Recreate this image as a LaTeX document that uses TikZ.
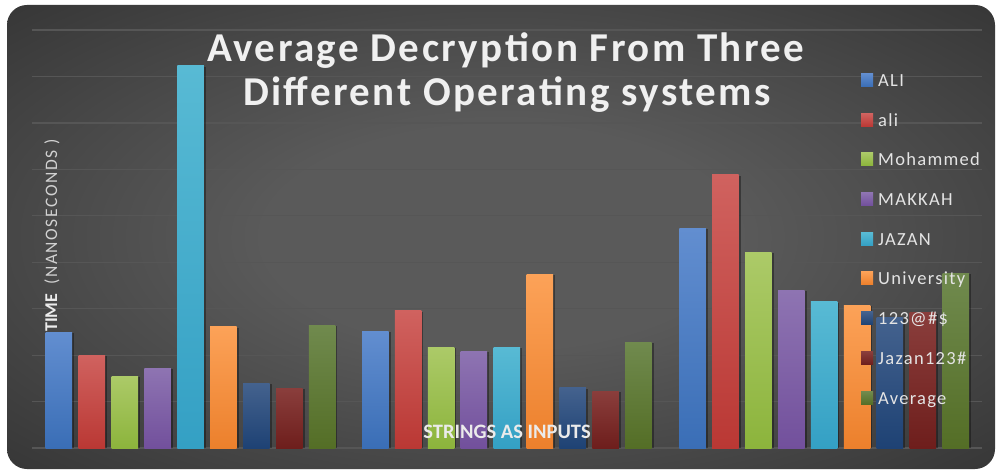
\documentclass[tikz,border=0pt]{standalone}
\usepackage{fontspec}
\setmainfont{Carlito}
\newfontfamily\titlefont[LetterSpace=6]{Carlito}
\newfontfamily\legfont[LetterSpace=7]{Carlito}
\newfontfamily\axfont[LetterSpace=9]{Carlito}
\definecolor{bgin}{RGB}{90,90,90}
\definecolor{bgout}{RGB}{36,36,36}
\definecolor{gridc}{RGB}{86,86,86}
\definecolor{txtc}{RGB}{228,228,228}
\definecolor{c0t}{RGB}{98,142,208}\definecolor{c0b}{RGB}{58,110,182}
\definecolor{c1t}{RGB}{208,98,95}\definecolor{c1b}{RGB}{186,56,52}
\definecolor{c2t}{RGB}{172,202,104}\definecolor{c2b}{RGB}{140,180,60}
\definecolor{c3t}{RGB}{142,116,178}\definecolor{c3b}{RGB}{114,80,156}
\definecolor{c4t}{RGB}{88,186,212}\definecolor{c4b}{RGB}{52,160,196}
\definecolor{c5t}{RGB}{252,162,88}\definecolor{c5b}{RGB}{236,128,44}
\definecolor{c6t}{RGB}{68,98,142}\definecolor{c6b}{RGB}{30,66,116}
\definecolor{c7t}{RGB}{138,62,60}\definecolor{c7b}{RGB}{110,30,28}
\definecolor{c8t}{RGB}{112,138,78}\definecolor{c8b}{RGB}{84,110,38}
\pgfdeclareradialshading{bgshade}{\pgfpoint{0bp}{0bp}}{color(0bp)=(bgin); color(12bp)=(bgin); color(48bp)=(bgout); color(71bp)=(bgout)}
\newcommand\bargroup[2]{%
  \foreach \h [count=\i from 0] in {#2} {
    \pgfmathsetmacro\xa{#1+\i*32.9}
    \pgfmathsetmacro\xb{\xa+26.5}
    \fill[black,opacity=0.35] (\xa+1.5,\h+1) rectangle (\xb+2,448);
    \shade[top color=c\i t,bottom color=c\i b] (\xa,\h) rectangle (\xb,448);
  }%
}
\begin{document}
\begin{tikzpicture}[x=1pt,y=-1pt,
  legtext/.style={anchor=base west,inner sep=0pt,text=txtc,font=\legfont\fontsize{18.5}{18.5}\selectfont},
  titletext/.style={anchor=base,inner sep=0pt,font=\titlefont\bfseries\fontsize{41}{41}\selectfont}]
\useasboundingbox (0,0) rectangle (998,470);
\fill[white] (0,0) rectangle (998,470);
\shade[shading=bgshade,rounded corners=20] (7,5) rectangle (995,469);
% grid
\foreach \k in {0,...,9} {
  \draw[gridc,line width=1.2] (32,{448-\k*46.44}) -- (982,{448-\k*46.44});
}
% bars
\bargroup{45.7}{332,355,376,368,65.7,326.7,383.3,388.3,325}
\bargroup{362}{331,310.7,347,351,347,274.3,387.7,391,342.3}
\bargroup{679.3}{228.3,175,252.3,290.3,301.7,305.3,317.7,312.7,273.3}
% title
\node[titletext,text=white!94!black] (t1) at (506,61.5) {Average Decryption From Three};
\node[titletext,text=white!94!black] (t2) at (507,106) {Different Operating systems};
% axis labels
\node[anchor=base west,rotate=90,inner sep=0pt,text=white!92!black] (ylab) at (57,332)
  {\fontsize{18}{18}\selectfont\bfseries TIME\hspace{9pt}\axfont\mdseries\fontsize{17.5}{17.5}\selectfont\color{white!82!black}(NANOSECONDS )};
\node[anchor=base,inner sep=0pt,text=white!92!black,font=\bfseries\fontsize{20.5}{20.5}\selectfont] (xlab) at (507,438) {STRINGS AS INPUTS};
% legend
\foreach \c/\y in {0/80,1/120,2/159,3/199,4/239,5/278,6/318,7/358,8/398} {
  \shade[top color=c\c t,bottom color=c\c b] (861,\y-6.5) rectangle (873,\y+6.5);
}
\node[legtext] (l0) at (878,86.5) {ALI};
\node[legtext] (l1) at (878,126.5) {ali};
\node[legtext] (l2) at (878,165.5) {Mohammed};
\node[legtext] (l3) at (878,205.5) {MAKKAH};
\node[legtext] (l4) at (878,245.5) {JAZAN};
\node[legtext] (l5) at (878,284.5) {University};
\node[legtext] (l6) at (878,324.5) {123@\#\$};
\node[legtext] (l7) at (878,364.5) {Jazan123\#};
\node[legtext] (l8) at (878,404.5) {Average};
\end{tikzpicture}
\end{document}
